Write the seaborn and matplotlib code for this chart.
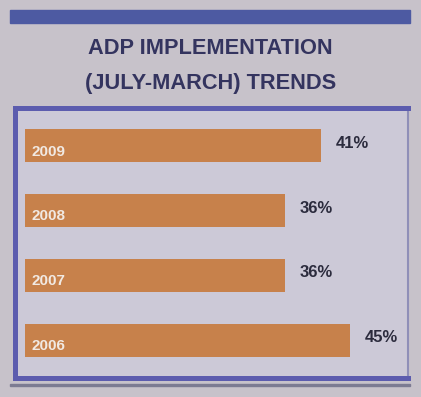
import matplotlib
matplotlib.use("Agg")
import matplotlib.pyplot as plt
from matplotlib import font_manager
from matplotlib.patches import Rectangle
import pandas as pd
import seaborn as sns

years = ["2009", "2008", "2007", "2006"]
values = [41, 36, 36, 45]
title_lines = ["ADP IMPLEMENTATION", "(JULY-MARCH) TRENDS"]

BG = "#c7c2ca"
PANEL = "#ccc9d7"
BAR = "#c7814b"
FRAME = "#5c5cae"
INK = "#2b2b3d"
TITLE_INK = "#34345f"

installed = {f.name for f in font_manager.fontManager.ttflist}
narrow = "Liberation Sans Narrow" in installed

sns.set_theme(style="white")
plt.rcParams["font.family"] = ["Liberation Sans", "DejaVu Sans"]

W, H = 421, 397
fig = plt.figure(figsize=(W / 100, H / 100), dpi=100, facecolor=BG)

# top blue band and bottom rule (page decoration)
fig.patches.append(Rectangle((10 / W, 1 - 23 / H), 400 / W, 13 / H,
                             transform=fig.transFigure, color="#4d5aa2", zorder=0))
fig.patches.append(Rectangle((10 / W, 1 - 386 / H), 400 / W, 2 / H,
                             transform=fig.transFigure, color="#7c7b92", zorder=0))

title_family = ["Liberation Sans Narrow", "DejaVu Sans"] if narrow else ["Liberation Sans", "DejaVu Sans"]
title_size = 18.5 if narrow else 15.7
for line, ypx in zip(title_lines, [48, 84]):
    fig.text(0.5, 1 - ypx / H, line, ha="center", va="center", fontsize=title_size,
             fontweight="bold", color=TITLE_INK, family=title_family)

# panel
left, top, right, bottom = 15, 108, 408, 378
ax = fig.add_axes([left / W, 1 - bottom / H, (right - left) / W, (bottom - top) / H])
ax.set_facecolor(PANEL)

df = pd.DataFrame({"year": years, "value": values})
sns.barplot(data=df, x="value", y="year", order=years, color=BAR,
            saturation=1, width=0.51, linewidth=0, ax=ax)

ax.set_xlim(-1.38, 53.0)
ax.set_ylim(3.587, -0.587)
ax.set_xticks([])
ax.set_yticks([])
ax.set_xlabel("")
ax.set_ylabel("")

for side in ["left", "top", "bottom"]:
    ax.spines[side].set_color(FRAME)
    ax.spines[side].set_linewidth(3.6)
ax.spines["right"].set_color("#8f8fb8")
ax.spines["right"].set_linewidth(1.5)

for i, (yr, v) in enumerate(zip(years, values)):
    ax.text(0.9, i + 0.09, yr, ha="left", va="center", fontsize=11,
            fontweight="bold", color="#f1e9e2", family=title_family)
    ax.text(v + 2.0, i - 0.04, f"{v}%", ha="left", va="center", fontsize=12,
            fontweight="bold", color=INK)

fig.savefig("out.png", dpi=100, facecolor=BG)
